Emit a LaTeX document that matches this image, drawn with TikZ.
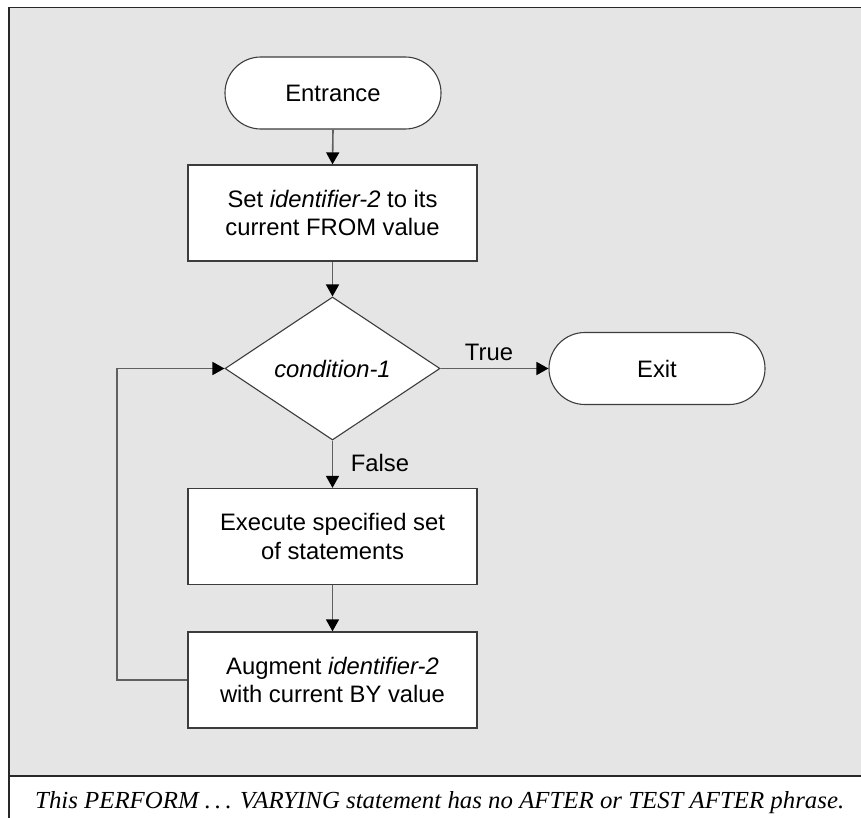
\documentclass[tikz,border=0pt]{standalone}
\usepackage{graphicx}
\usepackage{fontspec}
\setmainfont{Liberation Sans}
\newfontfamily\capfont{Liberation Serif}
\usetikzlibrary{shapes.geometric,arrows.meta}
\definecolor{bggray}{RGB}{229,229,229}
\definecolor{linegray}{RGB}{96,96,96}
\definecolor{edgegray}{RGB}{60,60,60}
\definecolor{framecol}{RGB}{40,40,40}
\begin{document}
\begin{tikzpicture}[x=1pt,y=-1pt,
  txt/.style={font=\fontsize{23.8}{28.5}\selectfont, text=black},
  term/.style={txt, draw=edgegray, line width=1.1pt, fill=white, rounded corners=35.9pt, minimum width=216pt, minimum height=72pt, inner sep=0pt},
  proc/.style={txt, draw=edgegray, line width=1.3pt, fill=white, minimum width=289pt, minimum height=96pt, inner sep=0pt, align=center},
  dec/.style={txt, draw=edgegray, line width=1.1pt, fill=white, diamond, aspect=1.5, minimum width=215pt, minimum height=143pt, inner sep=0pt},
  conn/.style={draw=linegray, line width=1.6pt, -{Triangle[length=12pt,width=13pt,color=black]}},
  lbl/.style={txt, inner sep=0pt},
  framestyle/.style={draw=framecol, line width=1.6pt}]
\useasboundingbox (0,0) rectangle (861,818);
\fill[bggray] (9,7.5) rectangle (861,776);
\draw[framestyle] (861,7.5) -- (9,7.5) -- (9,818);
\draw[framestyle] (9,776) -- (861,776);

\node[term] (entr) at (333,93) {Entrance};
\node[proc] (set) at (332.5,213) {Set \textit{identifier-2} to its\\current FROM value};
\node[dec] (cond) at (332.5,368.5) {\textit{condition-1}};
\node[term] (exit) at (657,368.5) {Exit};
\node[proc] (exec) at (332.5,536.5) {Execute specified set\\of statements};
\node[proc] (aug) at (332.5,680) {Augment \textit{identifier-2}\\with current BY value};
\coordinate (loopc) at (117,680);

\node[lbl] (truel) at (489,352) {True};
\node[lbl] (falsel) at (380,463) {False};

\draw[conn] (entr.south) -- (set.north);
\draw[conn] (set.south) -- (cond.north);
\draw[conn] (cond.east) -- (exit.west);
\draw[conn] (cond.south) -- (exec.north);
\draw[conn] (exec.south) -- (aug.north);
\draw[conn] (aug.west) -- (loopc) |- (cond.west);

\node[anchor=base west, inner sep=0pt] (cap) at (35,808) {\resizebox{809pt}{\height}{\capfont\itshape\fontsize{24.5}{28}\selectfont This PERFORM .\,.\,. VARYING statement has no AFTER or TEST AFTER phrase.}};
\end{tikzpicture}
\end{document}
